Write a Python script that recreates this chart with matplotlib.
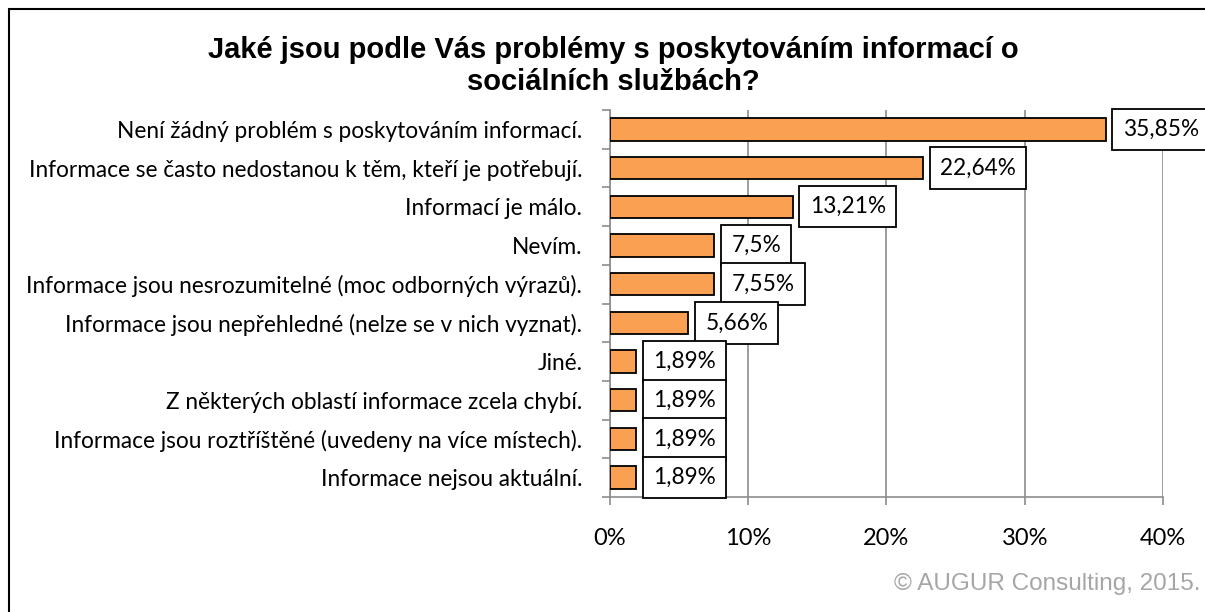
import numpy as np
import matplotlib.pyplot as plt
from matplotlib.patches import Rectangle

# ------------------------------------------------------------
# Data
# ------------------------------------------------------------
categories = [
    "Není žádný problém s poskytováním informací.",
    "Informace se často nedostanou k těm, kteří je potřebují.",
    "Informací je málo.",
    "Nevím.",
    "Informace jsou nesrozumitelné (moc odborných výrazů).",
    "Informace jsou nepřehledné (nelze se v nich vyznat).",
    "Jiné.",
    "Z některých oblastí informace zcela chybí.",
    "Informace jsou roztříštěné (uvedeny na více místech).",
    "Informace nejsou aktuální.",
]
values = [35.85, 22.64, 13.21, 7.55, 7.55, 5.66, 1.89, 1.89, 1.89, 1.89]
value_labels = ["35,85%", "22,64%", "13,21%", "7,5%", "7,55%", "5,66%",
                "1,89%", "1,89%", "1,89%", "1,89%"]
x_ticks = [0, 10, 20, 30, 40]
x_tick_labels = ["0%", "10%", "20%", "30%", "40%"]

title = "Jaké jsou podle Vás problémy s poskytováním informací o\nsociálních službách?"
credit = "© AUGUR Consulting, 2015."

body_font = "Lato"
title_font = "Liberation Sans"
bar_color = "#F9A053"
grid_color = "#8C8C8C"

fig = plt.figure(figsize=(12.05, 6.12), dpi=100)

# outer chart frame (cut off on the right and bottom like the screenshot)
fig.patches.append(Rectangle((9 / 1205, -0.1), 1.2, 1 - 9 / 612 + 0.1,
                             transform=fig.transFigure, fill=False,
                             edgecolor="black", linewidth=1.5))

ax = fig.add_axes([610 / 1205, 1 - 497 / 612, 553 / 1205, 387 / 612])

y = np.arange(len(categories))
ax.barh(y, values, height=0.58, color=bar_color, edgecolor="black",
        linewidth=1.3, zorder=3)

ax.set_xlim(0, 40)
ax.set_ylim(len(categories) - 0.5, -0.5)

# value label boxes
for yi, v, lab in zip(y, values, value_labels):
    ax.annotate(lab, xy=(v, yi), xytext=(17, 0), textcoords="offset pixels",
                ha="left", va="center", fontsize=16.3, family=body_font,
                bbox=dict(boxstyle="square,pad=0.45", facecolor="white",
                          edgecolor="black", linewidth=1.3),
                zorder=5, annotation_clip=False)

# x axis
ax.set_xticks(x_ticks)
ax.set_xticklabels(x_tick_labels, family=body_font, fontsize=17)
ax.xaxis.grid(True, color=grid_color, linewidth=1.2, zorder=0)
ax.tick_params(axis="x", length=6, width=1.2, color=grid_color, pad=16)

# y axis: labels at centres, ticks at boundaries
ax.set_yticks(y)
ax.set_yticklabels(categories, family=body_font, fontsize=16.3)
ax.set_yticks(np.arange(len(categories) + 1) - 0.5, minor=True)
ax.tick_params(axis="y", which="major", length=0, pad=20)
ax.tick_params(axis="y", which="minor", length=6, width=1.2, color=grid_color)

for side in ["top", "right"]:
    ax.spines[side].set_visible(False)
for side in ["left", "bottom"]:
    ax.spines[side].set_color(grid_color)
    ax.spines[side].set_linewidth(1.2)

fig.text(613 / 1205, 1 - 66 / 612, title, ha="center", va="center",
         family=title_font, fontweight="bold", fontsize=21, linespacing=1.15)

fig.text(1200 / 1205, 1 - 584 / 612, credit, ha="right", va="center",
         family=title_font, fontsize=17.5, color="#A6A6A6")

fig.savefig("out.png", dpi=100)
